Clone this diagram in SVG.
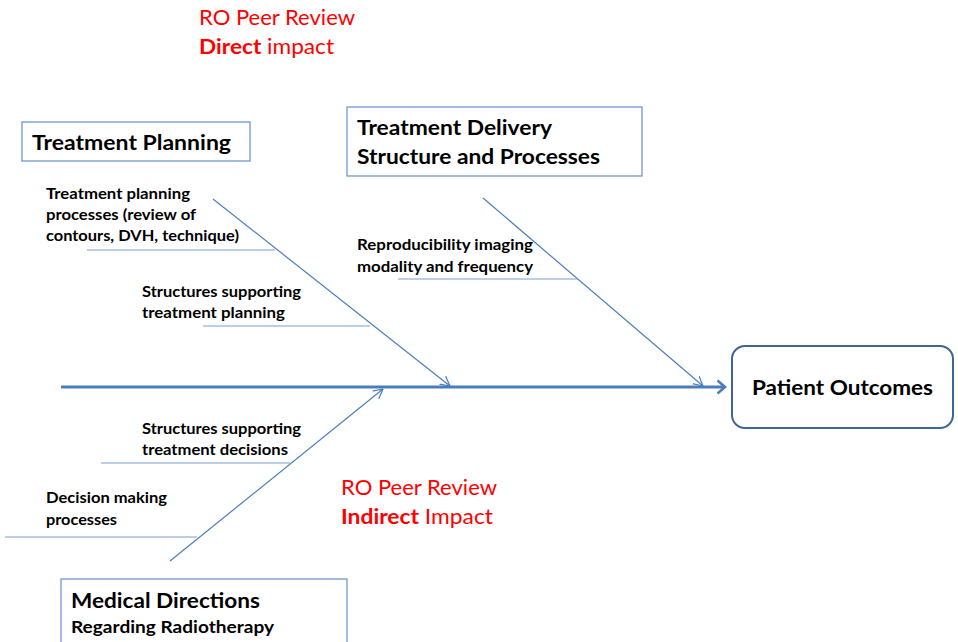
<svg xmlns="http://www.w3.org/2000/svg" width="958" height="642" viewBox="0 0 958 642">
  <style>
    .box { fill: #ffffff; stroke: #7097cd; stroke-width: 1.3; }
    .outcome { fill: #ffffff; stroke: #3d6595; stroke-width: 2; }
    .bone { fill: none; stroke: #4a7ebb; stroke-width: 1.2; }
    .rib { fill: none; stroke: #7aa0d2; stroke-width: 1.2; }
    .spine { fill: none; stroke: #4a7ebb; stroke-width: 3; }
    .head { font-family: Lato, "Liberation Sans", sans-serif; font-weight: bold; fill: #000000; }
    .label { font-family: Lato, "Liberation Sans", sans-serif; font-weight: bold; font-size: 15px; fill: #000000; }
    .note { font-family: Lato, "Liberation Sans", sans-serif; font-size: 21px; fill: #ff0000; }
    .note .strong { font-weight: bold; }
  </style>
  <defs>
    <marker id="arrowThin" viewBox="0 0 10 12" refX="9.5" refY="6" markerWidth="10" markerHeight="12" markerUnits="userSpaceOnUse" orient="auto">
      <path d="M0,1 L9.5,6 L0,11" fill="none" stroke="#4a7ebb" stroke-width="1.2"/>
    </marker>
    <marker id="arrowSpine" viewBox="0 0 10 16" refX="8.5" refY="8" markerWidth="10" markerHeight="16" markerUnits="userSpaceOnUse" orient="auto">
      <path d="M1,1.5 L8.5,8 L1,14.5" fill="none" stroke="#4a7ebb" stroke-width="2.6"/>
    </marker>
  </defs>

  <!-- Red annotations -->
  <g id="note-direct">
    <text class="note" x="199" y="25" textLength="156" lengthAdjust="spacingAndGlyphs">RO Peer Review</text>
    <text class="note" x="199" y="54" textLength="135" lengthAdjust="spacingAndGlyphs"><tspan class="strong">Direct</tspan> impact</text>
  </g>
  <g id="note-indirect">
    <text class="note" x="341" y="495" textLength="156" lengthAdjust="spacingAndGlyphs">RO Peer Review</text>
    <text class="note" x="341" y="524" textLength="152" lengthAdjust="spacingAndGlyphs"><tspan class="strong">Indirect</tspan> Impact</text>
  </g>

  <!-- Connectors: spine, bones and ribs -->
  <g id="connectors">
    <line class="spine" x1="61" y1="387" x2="725" y2="387" marker-end="url(#arrowSpine)"/>
    <line class="bone" x1="213" y1="199" x2="450" y2="386" marker-end="url(#arrowThin)"/>
    <line class="bone" x1="483" y1="198" x2="703" y2="386" marker-end="url(#arrowThin)"/>
    <line class="bone" x1="170" y1="561" x2="383" y2="389" marker-end="url(#arrowThin)"/>
    <line class="rib" x1="87" y1="250" x2="275" y2="250"/>
    <line class="rib" x1="203" y1="326" x2="370" y2="326"/>
    <line class="rib" x1="398" y1="279" x2="578" y2="279"/>
    <line class="rib" x1="101" y1="463" x2="290" y2="463"/>
    <line class="rib" x1="5" y1="537" x2="197" y2="537"/>
  </g>

  <!-- Category boxes -->
  <g id="treatment-planning">
    <rect class="box" x="22" y="122" width="228" height="39"/>
    <text class="head" x="32" y="150" font-size="21" textLength="199" lengthAdjust="spacingAndGlyphs">Treatment Planning</text>
  </g>
  <g id="treatment-delivery">
    <rect class="box" x="347" y="107" width="295" height="69"/>
    <text class="head" x="357" y="135" font-size="21" textLength="195" lengthAdjust="spacingAndGlyphs">Treatment Delivery</text>
    <text class="head" x="357" y="164" font-size="21" textLength="243" lengthAdjust="spacingAndGlyphs">Structure and Processes</text>
  </g>
  <g id="medical-directions">
    <rect class="box" x="61" y="579" width="286" height="70"/>
    <text class="head" x="71" y="608" font-size="21" textLength="189" lengthAdjust="spacingAndGlyphs">Medical Directions</text>
    <text class="head" x="71" y="633" font-size="17.5" textLength="203" lengthAdjust="spacingAndGlyphs">Regarding Radiotherapy</text>
  </g>
  <g id="patient-outcomes">
    <rect class="outcome" x="732" y="346" width="221" height="82" rx="13" ry="13"/>
    <text class="head" x="752" y="395" font-size="21" textLength="181" lengthAdjust="spacingAndGlyphs">Patient Outcomes</text>
  </g>

  <!-- Cause labels -->
  <g id="tp-processes">
    <text class="label" x="46" y="199" textLength="144" lengthAdjust="spacingAndGlyphs">Treatment planning</text>
    <text class="label" x="46" y="220" textLength="150" lengthAdjust="spacingAndGlyphs">processes (review of</text>
    <text class="label" x="46" y="241" textLength="193" lengthAdjust="spacingAndGlyphs">contours, DVH, technique)</text>
  </g>
  <g id="tp-structures">
    <text class="label" x="142" y="297" textLength="159" lengthAdjust="spacingAndGlyphs">Structures supporting</text>
    <text class="label" x="142" y="318" textLength="143" lengthAdjust="spacingAndGlyphs">treatment planning</text>
  </g>
  <g id="td-imaging">
    <text class="label" x="357" y="250" textLength="176" lengthAdjust="spacingAndGlyphs">Reproducibility imaging</text>
    <text class="label" x="357" y="272" textLength="176" lengthAdjust="spacingAndGlyphs">modality and frequency</text>
  </g>
  <g id="md-structures">
    <text class="label" x="142" y="434" textLength="159" lengthAdjust="spacingAndGlyphs">Structures supporting</text>
    <text class="label" x="142" y="455" textLength="146" lengthAdjust="spacingAndGlyphs">treatment decisions</text>
  </g>
  <g id="md-decisions">
    <text class="label" x="46" y="503" textLength="121" lengthAdjust="spacingAndGlyphs">Decision making</text>
    <text class="label" x="46" y="525" textLength="71" lengthAdjust="spacingAndGlyphs">processes</text>
  </g>
</svg>
